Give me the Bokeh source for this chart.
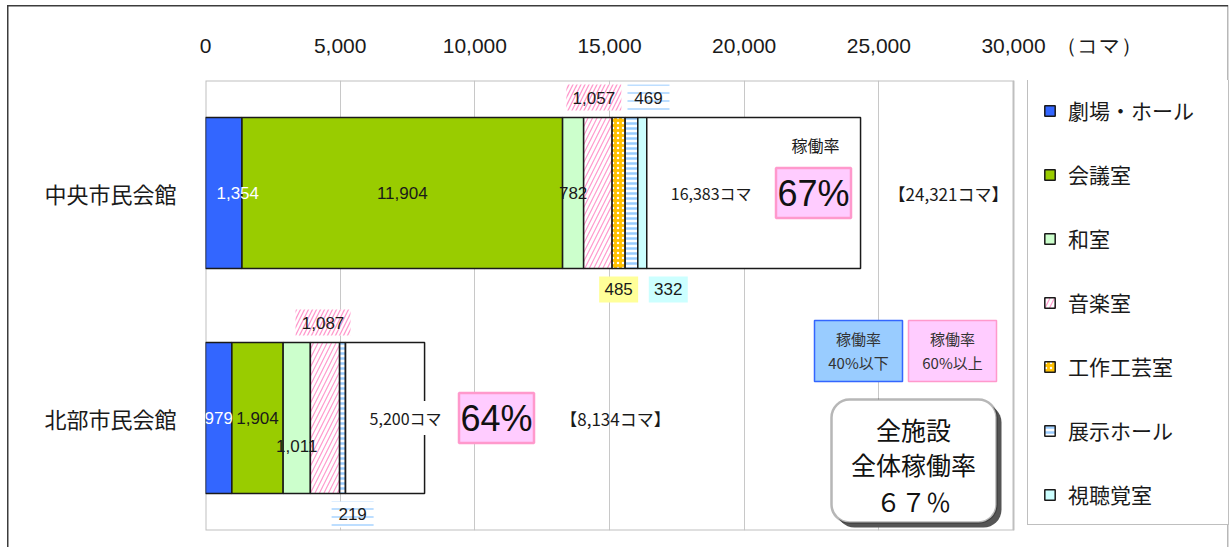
from bokeh.plotting import figure
from bokeh.models import (ColumnDataSource, Range1d, FactorRange, Legend, LegendItem,
                          BoxAnnotation, Label, NumeralTickFormatter, FixedTicker)
from bokeh.core.properties import value
from bokeh.embed import file_html
from bokeh.resources import INLINE

# ---------------- data ----------------
facilities = ["中央市民会館", "北部市民会館"]
room_types = ["劇場・ホール", "会議室", "和室", "音楽室", "工作工芸室", "展示ホール", "視聴覚室"]
chuo_koma = [1354, 11904, 782, 1057, 485, 469, 332]
hokubu_koma = [979, 1904, 1011, 1087, 0, 219, 0]
total_koma = [24321, 8134]
rate_text = ["67%", "64%"]
rate_caption = ["稼働率", ""]
x_ticks = [0, 5000, 10000, 15000, 20000, 25000, 30000]
unit_label = "（コマ）"
overall_lines = ["全施設", "全体稼働率", "６７％"]
low_box_lines = ["稼働率", "40%以下"]
high_box_lines = ["稼働率", "60%以上"]

# ---------------- styles ----------------
fills = ["#3366FF", "#99CC00", "#CCFFCC", "#FFFFFF", "#FFC000", "#FFFFFF", "#CCFFFF"]
hatches = [" ", " ", " ", "/", ".", "-", " "]
hatch_colors = ["#000000", "#000000", "#000000", "#FF99CC", "#FFFFFF", "#99CCFF", "#000000"]
hatch_scales = [6, 6, 6, 9, 5, 5, 6]
hatch_weights = [1, 1, 1, 1.2, 1.5, 2.5, 1]
label_bg = {3: ("#FFFFFF", "/", "#FF99CC"), 4: ("#FFFF99", " ", "#FFFF99"),
            5: ("#FFFFFF", "-", "#99CCFF"), 6: ("#CCFFFF", " ", "#CCFFFF")}
# (facility index, room index): (placement, dx px, dy px, color)
seg_label_style = {
    (0, 0): ("in", 14, 0, "#FFFFFF"),
    (0, 3): ("above", -4, 0, "#1a1a1a"),
    (0, 4): ("below", 0, 0, "#1a1a1a"),
    (0, 5): ("above", 17, 0, "#1a1a1a"),
    (0, 6): ("below", 26, 0, "#1a1a1a"),
    (1, 0): ("in", 0, 0, "#FFFFFF"),
    (1, 2): ("in", 0, 28, "#1a1a1a"),
    (1, 3): ("above", -2, 0, "#1a1a1a"),
    (1, 5): ("below", 10, 0, "#1a1a1a"),
}

W, H = 1232, 547
LEFT, TOP, BOTTOM = 205, 80, 17
AXIS_MAX = 30000
AXIS_PX = 808                       # pixel length of the 0..30,000 scale
px_x = AXIS_PX / AXIS_MAX
FH = H - TOP - BOTTOM
py_y = FH / 2.0
BAR_H = 0.671
X_END = (W - LEFT) / px_x           # frame continues to the right edge

def xd(px):
    return (px - LEFT) / px_x

def yd(py):
    return (TOP + FH - py) / py_y

unit_tick = round(xd(1099))

frame_css = ("linear-gradient(#3c3c3c,#3c3c3c) 7px 5px / 1.5px 100% no-repeat, "
             "linear-gradient(#3c3c3c,#3c3c3c) 7px 5px / 1221px 1.5px no-repeat, "
             "linear-gradient(#b8b8b8,#b8b8b8) 1227px 5px / 1.5px 100% no-repeat, #ffffff")

p = figure(width=W, height=H, x_range=Range1d(0, X_END),
           y_range=FactorRange(factors=list(reversed(facilities))),
           x_axis_location="above", output_backend="svg", toolbar_location=None,
           min_border_left=LEFT, min_border_right=0, min_border_top=TOP,
           min_border_bottom=BOTTOM)
p.styles = {"background": frame_css}
p.background_fill_color = None
p.border_fill_color = None
p.outline_line_color = None

p.xaxis.ticker = FixedTicker(ticks=x_ticks + [unit_tick])
p.xaxis.formatter = NumeralTickFormatter(format="0,0")
p.xaxis.major_label_overrides = {unit_tick: unit_label}
p.xaxis.axis_line_color = None
p.xaxis.major_tick_line_color = None
p.xaxis.minor_tick_line_color = None
p.xaxis.major_label_text_font = "Liberation Sans"
p.xaxis.major_label_text_font_size = "21px"
p.xaxis.major_label_text_color = "#1a1a1a"
p.xaxis.major_label_standoff = 18
p.xgrid.ticker = FixedTicker(ticks=x_ticks)
p.xgrid.grid_line_color = "#c8c8c8"
p.ygrid.grid_line_color = None

p.yaxis.axis_line_color = None
p.yaxis.major_tick_line_color = None
p.yaxis.major_label_text_font = "Noto Sans CJK JP"
p.yaxis.major_label_text_font_size = "22px"
p.yaxis.major_label_text_color = "#1a1a1a"
p.yaxis.major_label_standoff = 23

# plot-area border (0 .. axis max)
p.quad(left=[0], right=[AXIS_MAX], bottom=[0], top=[2], fill_color=None,
       line_color="#bfbfbf", line_width=2)

# ---------------- bars ----------------
data = {"facility": facilities}
for k, room in enumerate(room_types):
    data[room] = [chuo_koma[k], hokubu_koma[k]]
src = ColumnDataSource(data)
renderers = p.hbar_stack(room_types, y="facility", height=BAR_H, source=src,
                         fill_color=fills, line_color="#1a1a1a", line_width=1.5,
                         hatch_pattern=hatches, hatch_color=hatch_colors,
                         hatch_scale=hatch_scales, hatch_weight=hatch_weights)

used = [sum(chuo_koma), sum(hokubu_koma)]
p.hbar(y=facilities, left=used, right=total_koma, height=BAR_H,
       fill_color="white", line_color="#1a1a1a", line_width=1.5)

# ---------------- segment labels ----------------
lx, ly, lt, lc = [], [], [], []
bx, by, bw, bh, bf, bp, bhc = [], [], [], [], [], [], []
for i, vals in enumerate([chuo_koma, hokubu_koma]):
    cy = 1.5 - i
    cum = 0
    for k, v in enumerate(vals):
        if v <= 0:
            continue
        place, dx, dy, col = seg_label_style.get((i, k), ("in", 0, 0, "#1a1a1a"))
        x = cum + v / 2 + dx / px_x
        if place == "in":
            y = cy - dy / py_y
        elif place == "above":
            y = cy + BAR_H / 2 + 20 / py_y
        else:
            y = cy - BAR_H / 2 - 21 / py_y
        lx.append(x); ly.append(y); lt.append(f"{v:,}"); lc.append(col)
        if place != "in":
            f, hp, hc = label_bg[k]
            w = 55 if k == 3 else (42 if k == 5 else 39)
            bx.append(x); by.append(y); bw.append(w); bh.append(26)
            bf.append(f); bp.append(hp); bhc.append(hc)
        cum += v

bg_src = ColumnDataSource(dict(x=bx, y=by, w=bw, h=bh, f=bf, hp=bp, hc=bhc))
p.rect(x="x", y="y", width="w", height="h", width_units="screen", height_units="screen",
       source=bg_src, fill_color="f", line_color=None, hatch_pattern="hp",
       hatch_color="hc", hatch_scale=8, hatch_weight=1.3)

# used-koma labels with white background
kx = [u + 24 / px_x for u in used]
ky = [1.5, 0.5]
ktxt = [f"{u:,}コマ" for u in used]
p.rect(x=[k + 40 / px_x for k in kx], y=ky, width=82, height=34, width_units="screen",
       height_units="screen", fill_color="white", line_color=None)
p.text(x=kx, y=ky, text=ktxt, text_align="left", text_baseline="middle",
       text_font=value("Noto Sans CJK JP"), text_font_size=value("16px"),
       text_color="#1a1a1a")

lab_src = ColumnDataSource(dict(x=lx, y=ly, t=lt, c=lc))
p.text(x="x", y="y", text="t", text_color="c", source=lab_src, text_align="center",
       text_baseline="middle", text_font=value("Liberation Sans"),
       text_font_size=value("17px"))

# ---------------- rate boxes ----------------
rate_px = [813, 496]
total_px = [948, 615]
for i in range(2):
    cy = 1.5 - i
    p.rect(x=[xd(rate_px[i])], y=[cy], width=75, height=50, width_units="screen",
           height_units="screen", fill_color="#FFCCFF", line_color="#FF99CC", line_width=2.5)
    p.text(x=[xd(rate_px[i])], y=[cy], text=[rate_text[i]], text_align="center",
           text_baseline="middle", text_font=value("Liberation Sans"),
           text_font_size=value("36px"), text_color="#111111")
    if rate_caption[i]:
        p.text(x=[xd(rate_px[i] + 2)], y=[cy + 48 / py_y], text=[rate_caption[i]],
               text_align="center", text_baseline="middle",
               text_font=value("Noto Sans CJK JP"), text_font_size=value("16px"),
               text_color="#1a1a1a")
    p.text(x=[xd(total_px[i])], y=[cy], text=[f"【{total_koma[i]:,}コマ】"],
           text_align="center", text_baseline="middle",
           text_font=value("Noto Sans CJK JP"), text_font_size=value("17px"),
           text_color="#1a1a1a")

# ---------------- colour-key boxes ----------------
p.quad(left=[xd(814)], right=[xd(902)], top=[yd(320)], bottom=[yd(381)],
       fill_color="#99CCFF", line_color="#3366FF", line_width=1.5)
p.quad(left=[xd(908)], right=[xd(996)], top=[yd(320)], bottom=[yd(381)],
       fill_color="#FFCCFF", line_color="#FF99CC", line_width=1.5)
for cx, lines in [(858, low_box_lines), (952, high_box_lines)]:
    p.text(x=[xd(cx)] * 2, y=[yd(338), yd(362)], text=lines, text_align="center",
           text_baseline="middle", text_font=value("Noto Sans CJK JP"),
           text_font_size=value("15px"), text_color="#333333")

# rounded summary box with shadow
p.add_layout(BoxAnnotation(left=xd(836), right=xd(1001), top=yd(404), bottom=yd(527),
                           border_radius=18, fill_color="#555555", fill_alpha=1,
                           line_color=None))
p.add_layout(BoxAnnotation(left=xd(831), right=xd(996), top=yd(399), bottom=yd(522),
                           border_radius=18, fill_color="white", fill_alpha=1,
                           line_color="#111111", line_width=2.5))
for t, py in zip(overall_lines, [428, 463, 500]):
    p.add_layout(Label(x=xd(913), y=yd(py), text=t, text_align="center",
                       text_baseline="middle", text_font="Noto Sans CJK JP",
                       text_font_size="25px", text_color="#111111"))

# ---------------- legend ----------------
items = [LegendItem(label=room, renderers=[r]) for room, r in zip(room_types, renderers)]
legend = Legend(items=items, location=(822, 5), glyph_width=13, glyph_height=13,
                label_text_font="Noto Sans CJK JP", label_text_font_size="21px",
                label_text_color="#1a1a1a", padding=15, spacing=34, label_height=22,
                label_width=145, label_standoff=12, border_line_color="#7f7f7f",
                border_line_width=1.5, background_fill_color="white",
                background_fill_alpha=1, margin=0)
p.add_layout(legend)

open("out.html", "w").write(file_html(p, INLINE))
